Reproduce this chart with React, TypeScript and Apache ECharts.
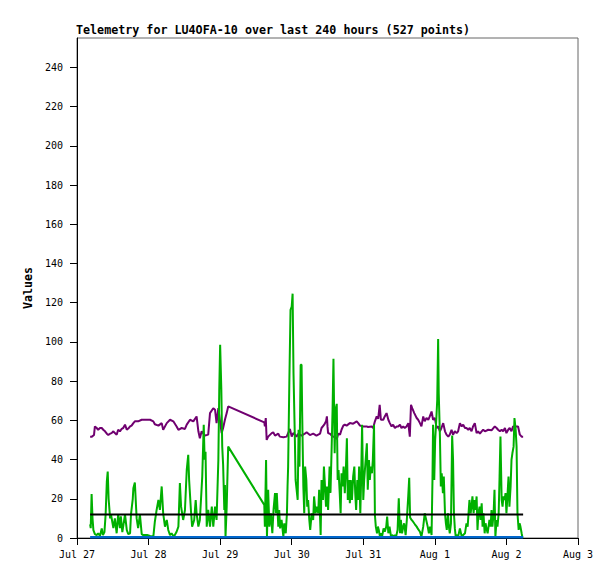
import React, { useEffect, useRef } from "react";
import * as echarts from "echarts";

const titleText = "Telemetry for LU4OFA-10 over last 240 hours (527 points)";
const yAxisName = "Values";
// x axis: hours since Jul 27 00:00
const xTickLabels = ["Jul 27", "Jul 28", "Jul 29", "Jul 30", "Jul 31", "Aug 1", "Aug 2", "Aug 3"];
const xMaxHours = 168;
const xStepHours = 24;
const yTicks = [0, 20, 40, 60, 80, 100, 120, 140, 160, 180, 200, 220, 240];
const yMax = 255;

// [hours since Jul 27 00:00, value]
const purpleSeries: [number, number][] = [
  [4.4, 51.7], [5.0, 51.7], [5.7, 52.5], [6.0, 56.9], [6.6, 56.1], [7.1, 55.2], [7.7, 56.1], [8.3, 56.1],
  [8.8, 55.2], [9.4, 54.4], [10.0, 53.2], [10.5, 52.5], [11.1, 53.2], [11.6, 53.5], [12.2, 54.4], [12.7, 53.5],
  [13.3, 52.7], [13.8, 55.2], [14.4, 54.4], [15.0, 55.7], [15.5, 56.1], [16.1, 57.8], [16.7, 55.2], [17.2, 55.8],
  [17.8, 56.9], [18.3, 57.3], [18.9, 58.6], [19.4, 59.5], [20.5, 59.5], [21.7, 60.3], [22.8, 60.3], [24.5, 60.3],
  [25.6, 59.5], [26.1, 58], [27.3, 57.3], [28.4, 58.6], [28.9, 55.2], [30.1, 58.6], [31.2, 60.3], [32.3, 59.5],
  [33.4, 56.9], [34.0, 55.2], [35.1, 56.1], [36.2, 55.6], [36.8, 57.8], [37.9, 60.3], [39.0, 59.5], [40.1, 62],
  [40.7, 54.4], [41.2, 50.9], [41.8, 54.4], [42.9, 52.2], [44.0, 52.7], [44.6, 63.7], [45.7, 66.2], [46.3, 65.4],
  [46.8, 58.6], [47.4, 66.2], [47.9, 60.3], [48.5, 53.5], [49.0, 56.1], [49.6, 60.3], [50.2, 63.7], [50.7, 67.1],
  [62.8, 59], [63.0, 56.9], [63.3, 61.2], [63.6, 50], [64.1, 51.7], [65.3, 53.5], [65.8, 53.9], [66.4, 52.2],
  [67.5, 53.2], [68.0, 51.7], [69.2, 51.4], [70.3, 51.7], [70.8, 53.5], [71.4, 55.6], [72.0, 51.7], [72.5, 53.5],
  [73.1, 52.7], [73.6, 51.7], [74.2, 53.2], [75.3, 52.2], [76.4, 53.2], [77.0, 53.9], [78.1, 52.5], [79.2, 53.2],
  [80.3, 52.2], [81.5, 53.2], [82.0, 56.1], [82.9, 57.8], [83.5, 59.5], [83.8, 62], [84.0, 56.9], [84.2, 53.5],
  [84.8, 53.2], [85.4, 52.2], [85.9, 51.7], [86.5, 51.4], [87.1, 50.4], [87.6, 53.2], [88.2, 52.7], [88.7, 55.2],
  [89.3, 57.3], [89.8, 57.8], [90.4, 57.3], [91.5, 58.6], [92.6, 58.3], [93.8, 59.5], [94.3, 58.6], [94.9, 57.3],
  [96.0, 56.9], [97.1, 56.9], [97.6, 56.6], [98.8, 56.9], [99.3, 56.1], [99.9, 59.5], [100.5, 62], [101.0, 60.8],
  [101.5, 67.9], [101.9, 60.3], [102.7, 60.3], [103.2, 62], [103.8, 63.7], [104.4, 60.3], [104.9, 58.6], [105.5, 56.9],
  [106.0, 57.8], [106.6, 56.1], [107.2, 56.9], [107.7, 56.9], [108.3, 57.8], [108.8, 56.1], [109.4, 56.9], [109.9, 56.1],
  [110.5, 56.9], [111.1, 58.6], [111.6, 51.7], [112.0, 67.9], [112.4, 66.2], [113.1, 63.7], [113.9, 61.2], [114.4, 60.3],
  [115.0, 58.6], [115.5, 56.9], [116.1, 62], [116.6, 59.5], [117.2, 61.2], [117.8, 60.3], [118.3, 62], [118.9, 64.5],
  [119.4, 60.3], [120.0, 61.2], [120.6, 56], [121.1, 56.9], [121.7, 54.4], [122.2, 56.1], [122.8, 58.6], [123.4, 54.4],
  [123.9, 52.7], [124.5, 51.7], [125.0, 52.7], [125.6, 55.2], [126.1, 52.7], [126.7, 54.4], [127.3, 53.5], [127.8, 54.4],
  [128.4, 58.6], [129.0, 56.9], [129.5, 57.8], [130.1, 56.1], [130.6, 56.1], [131.2, 55.2], [131.7, 56.1], [132.3, 54.4],
  [132.8, 56.9], [133.4, 58.6], [134.0, 53.5], [134.5, 54.4], [135.1, 53.2], [135.7, 54.4], [136.2, 55.2], [136.8, 54.4],
  [137.9, 55.2], [139.0, 54.9], [140.1, 56.9], [140.7, 56.1], [141.2, 55.2], [141.8, 54.4], [142.4, 55.2], [142.9, 54.4],
  [143.5, 56.1], [144.0, 53.5], [144.6, 55.2], [145.1, 56.1], [145.7, 54.4], [146.2, 56.9], [146.8, 56.9], [147.4, 56.9],
  [147.9, 56.9], [148.5, 52.7], [149.1, 51.7], [149.6, 51.7],
];

const greenSeries: [number, number][] = [
  [4.4, 7], [4.6, 5], [4.9, 22.4], [5.2, 10], [5.5, 4], [6.0, 2], [6.6, 1.5], [7.1, 2.4], [7.7, 1], [8.3, 4.9],
  [8.7, 1.5], [9.2, 3], [9.6, 12], [10.0, 28.8], [10.3, 33.9], [10.6, 20], [11.1, 10], [11.4, 12], [12.2, 5], [12.7, 10],
  [13.3, 2.4], [13.8, 12], [14.4, 5], [14.7, 11], [15.2, 3], [15.9, 10], [16.1, 12], [16.7, 4], [17.2, 2], [17.8, 2.4],
  [18.1, 12], [18.7, 20], [18.9, 25.4], [19.4, 28.3], [20.0, 10], [20.5, 5], [21.1, 12], [21.7, 2], [22.2, 1.5], [23.5, 1.5],
  [24.5, 1], [25.6, 0.7], [26.1, 8.3], [26.7, 14.3], [27.3, 19.4], [27.8, 14.3], [28.4, 26.3], [28.9, 12.6], [29.5, 5.8], [30.1, 9.2],
  [30.6, 4.1], [31.2, 1.5], [31.7, 2.4], [32.3, 1.0], [32.8, 1.5], [33.4, 3.2], [34.0, 5.8], [34.5, 28.0], [34.9, 16], [35.6, 9.2],
  [36.2, 14.3], [36.8, 34.7], [37.3, 42.4], [37.6, 29.6], [38.2, 14.3], [38.6, 5.8], [39.3, 9.2], [39.8, 19.4], [40.1, 12.6], [40.7, 5.8],
  [41.2, 9.2], [42.0, 31.3], [42.5, 57.8], [42.8, 40], [43.1, 44], [43.5, 5.8], [44.0, 14.3], [44.6, 5.8], [45.2, 16], [45.7, 5.8],
  [46.3, 16], [46.8, 9.2], [47.4, 39.8], [47.7, 75], [48.0, 98.6], [48.4, 75.6], [48.7, 46.6], [49.0, 37.3], [49.4, 14.3], [49.6, 27],
  [49.8, 0.7], [50.2, 16], [50.5, 34.7], [50.7, 46.6], [62.8, 16.9], [63.0, 5.8], [63.4, 39.8], [63.7, 0.7], [64.1, 24.6], [64.5, 5.8],
  [65.0, 12.6], [65.5, 2.4], [65.9, 14.3], [66.4, 22.9], [66.7, 12.6], [67.0, 22.9], [67.5, 5.8], [67.8, 14.3], [68.1, 4.9], [68.6, 9.2],
  [69.2, 0.7], [69.5, 7.5], [70.0, 2.4], [70.4, 12.6], [70.6, 26.3], [70.8, 36.4], [71.2, 79], [71.6, 116.4], [72.0, 118], [72.3, 124.6],
  [72.6, 84], [73.0, 55], [73.3, 29.6], [74.0, 19.4], [74.3, 55.2], [74.6, 36.4], [75.0, 88.4], [75.3, 88.4], [75.5, 64.5], [75.9, 26.3],
  [76.2, 12.6], [76.5, 36.4], [76.9, 29.6], [77.2, 16], [77.5, 19.4], [77.9, 9.2], [78.2, 4.1], [78.7, 12.6], [79.2, 9.2], [79.5, 21.2],
  [80.0, 12.6], [80.4, 16], [80.9, 12.6], [81.2, 24.6], [81.7, 1.5], [82.0, 29.6], [82.5, 19.4], [82.8, 36.4], [83.1, 28], [83.5, 16],
  [83.8, 26.3], [84.2, 14.3], [84.7, 36.4], [85.0, 23], [85.4, 46.6], [85.7, 65.4], [86.0, 91.4], [86.4, 43.2], [86.7, 65.4], [87.1, 68.4],
  [87.4, 29.6], [87.7, 34.7], [88.1, 22.9], [88.4, 12.6], [88.7, 33], [89.1, 26.3], [89.4, 36.4], [89.8, 22.9], [90.2, 36.4], [90.5, 50.9],
  [90.8, 19.4], [91.2, 29.6], [91.5, 17.7], [91.8, 29.6], [92.2, 19.4], [92.6, 31.3], [93.0, 36.4], [93.3, 22.9], [93.6, 14.3], [94.0, 29.6],
  [94.3, 19.4], [94.6, 36.4], [95.0, 12.6], [95.3, 31.3], [95.6, 57.8], [96.0, 19.4], [96.3, 29.6], [97.2, 48.3], [97.5, 24.6], [97.9, 39.8],
  [98.2, 29.6], [98.5, 36.4], [98.9, 33], [99.2, 39.8], [99.6, 57.8], [99.9, 11.7], [100.2, 5.8], [100.6, 2.4], [100.9, 5.8], [101.2, 4.1],
  [101.6, 0.7], [101.9, 2.4], [102.3, 0.7], [102.8, 4.9], [103.2, 3.2], [103.7, 5.8], [104.0, 10.9], [104.4, 2.4], [104.8, 5.8], [105.3, 0.7],
  [105.7, 1.5], [106.2, 0.7], [106.6, 1.5], [107.0, 0.7], [107.5, 4.1], [107.9, 20.3], [108.3, 2.4], [108.6, 9.2], [109.0, 2.4], [109.4, 5.8],
  [109.7, 7.5], [110.2, 1.5], [110.6, 9.2], [111.1, 22], [111.4, 30.7], [111.7, 10.5], [112.2, 9.2], [112.7, 8.3], [113.3, 7], [113.9, 5.8],
  [114.4, 4.5], [115.0, 3.2], [115.5, 0.7], [116.1, 5.8], [116.6, 12.6], [117.1, 9.2], [117.6, 5.8], [118.0, 2.4], [118.4, 5.8], [118.9, 1.5],
  [119.2, 29.6], [119.4, 57.8], [119.8, 29.6], [120.1, 50], [120.4, 57.8], [120.8, 70.5], [121.1, 101.5], [121.3, 73.9], [121.7, 51.7], [122.0, 26.3],
  [122.3, 33], [122.7, 22.9], [123.0, 31.3], [123.4, 12.6], [123.7, 7.5], [124.0, 4.1], [124.4, 12.6], [124.7, 5.8], [125.0, 2.4], [125.4, 7.5],
  [125.8, 52.3], [126.1, 40], [126.4, 12.6], [126.7, 4.9], [127.0, 0.7], [127.5, 1.5], [127.8, 0.7], [128.4, 4.9], [129.0, 0.7], [129.5, 1.5],
  [130.1, 2.4], [130.6, 7.5], [131.0, 5.8], [131.3, 12.6], [131.6, 19.4], [132.0, 12.6], [132.3, 16], [132.6, 21.2], [133.0, 12.6], [133.3, 19.4],
  [133.6, 14.3], [134.0, 21.2], [134.3, 4.1], [134.6, 12.6], [135.0, 16], [135.3, 9.2], [135.7, 17.7], [136.0, 5.8], [136.3, 12.6], [136.7, 2.4],
  [137.0, 7.5], [137.3, 4.9], [137.7, 2.4], [138.0, 5.8], [138.3, 9.2], [138.7, 5.8], [139.0, 14.3], [139.3, 5.8], [139.7, 12.6], [140.0, 24.6],
  [140.3, 0.7], [140.7, 9.2], [141.0, 5.8], [141.4, 12.6], [141.7, 31.3], [142.0, 51.7], [142.4, 19.4], [142.7, 16], [143.0, 21.2], [143.4, 19.4],
  [143.7, 22.9], [144.0, 12.6], [144.4, 22.9], [144.7, 31.3], [145.0, 16], [145.4, 26.3], [145.7, 39.8], [146.0, 43.2], [146.4, 46.6], [146.7, 61.2],
  [147.1, 55.2], [147.4, 46.6], [147.7, 12.6], [148.1, 4.1], [148.4, 7.5], [148.7, 5.8], [149.1, 2.4], [149.4, 0],
];

const blackSeries: [number, number][] = [[4.4, 12], [149.6, 12]];
const blueSeries: [number, number][] = [[4.4, 0.4], [149.6, 0.4]];

const FONT = "DejaVu Sans Mono";

export default function App() {
  const ref = useRef<HTMLDivElement>(null);
  useEffect(() => {
    if (!ref.current) return;
    const chart = echarts.init(ref.current, undefined, { renderer: "svg" });
    const line = (data: [number, number][], color: string, z: number, width = 2) => ({
      type: "line",
      data,
      showSymbol: false,
      symbol: "none",
      z,
      lineStyle: { color, width },
      itemStyle: { color },
    });
    chart.setOption({
      animation: false,
      backgroundColor: "#ffffff",
      title: {
        text: titleText,
        left: 76,
        top: 24,
        padding: 0,
        textStyle: { fontFamily: FONT, fontSize: 11.7, fontWeight: "bold", color: "#000" },
      },
      grid: {
        left: 77,
        top: 38,
        right: 37,
        bottom: 41,
        show: true,
        borderColor: "#666",
        borderWidth: 1,
        backgroundColor: "transparent",
      },
      xAxis: {
        type: "value",
        min: 0,
        max: xMaxHours,
        interval: xStepHours,
        axisLine: { show: true, lineStyle: { color: "#000", width: 1 } },
        axisTick: { show: true, length: 7, lineStyle: { color: "#000" } },
        axisLabel: {
          margin: 11,
          fontFamily: FONT,
          fontSize: 10,
          color: "#000",
          formatter: (v: number) => xTickLabels[Math.round(v / xStepHours)] ?? "",
        },
        splitLine: { show: false },
      },
      yAxis: {
        type: "value",
        min: 0,
        max: yMax,
        name: yAxisName,
        nameLocation: "middle",
        nameGap: 39,
        nameTextStyle: { fontFamily: FONT, fontSize: 11.6, fontWeight: "bold", color: "#000" },
        axisLine: { show: true, lineStyle: { color: "#000", width: 1 } },
        axisTick: { show: true, length: 7, customValues: yTicks, lineStyle: { color: "#000" } },
        axisLabel: {
          customValues: yTicks,
          margin: 14,
          fontFamily: FONT,
          fontSize: 10,
          color: "#000",
        },
        splitLine: { show: false },
      },
      series: [
        line(purpleSeries, "#700070", 2),
        line(greenSeries, "#00b000", 3),
        line(blackSeries, "#000000", 4),
        line(blueSeries, "#0066cc", 5, 2.5),
      ],
    });
    return () => chart.dispose();
  }, []);
  return (
    <div
      ref={ref}
      style={{ position: "fixed", left: 0, top: 0, width: 615, height: 579, background: "#fff" }}
    />
  );
}
